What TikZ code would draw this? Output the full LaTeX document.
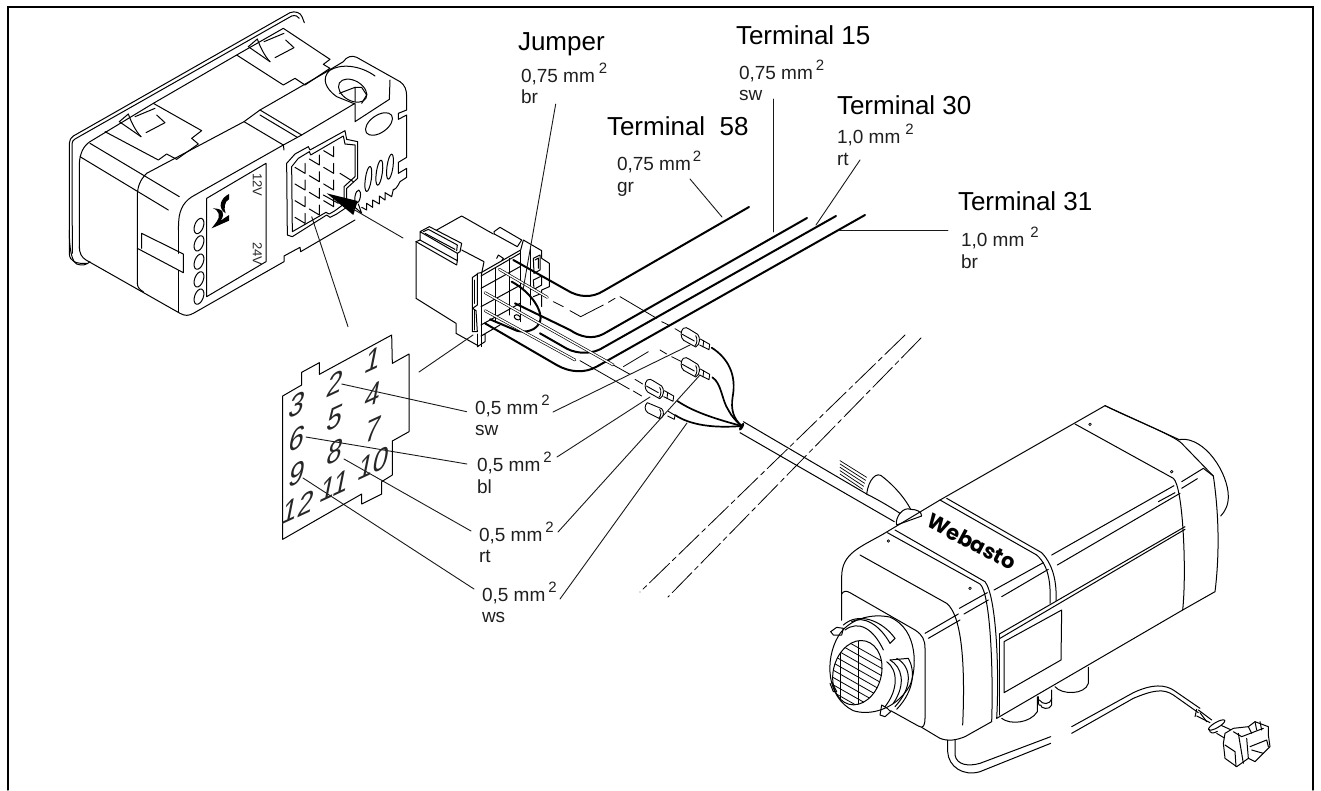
\documentclass[tikz,border=0pt]{standalone}
\usepackage{fontspec}
\setmainfont{Liberation Sans}
\newfontfamily\logofont{Poppins}
\newcommand{\fsz}[1]{\fontsize{#1}{#1}\selectfont}
\newcommand{\wlabel}[7]{% name, x, y, text, gap, second line, dy
  \node[lab] (#1) at (#2,#3) {\fsz{19}#4\hspace{#5pt}\raisebox{8.5pt}{\fsz{15}2}};
  \node[lab] (#1c) at (#2,#3+#7) {\fsz{19}#6};}
\tikzset{
  x=1pt,y=-1pt,
  lab/.style={anchor=base west,inner sep=0pt,outer sep=0pt,text=black!88},
  head/.style={anchor=base west,inner sep=0pt,outer sep=0pt,text=black},
  thin line/.style={line width=1pt,line join=round,line cap=round},
  leader/.style={line width=.9pt,black!90},
  thick wire/.style={line width=2pt,line cap=round,line join=round},
  thin wire/.style={line width=.65pt,double=white,double distance=1.4pt},
  dashwire/.style={line width=.8pt},
  zoomed/.style 2 args={shift={(#1,#2)},x=.33333pt,y=-.33333pt},
  digit/.style={inner sep=0pt,font=\fsz{33},cm={.82,.38,.2,1,(0,0)},text=black!85},
  term/.pic={
    \draw[line width=.9pt,fill=white] (5,0) .. controls (12,-4) and (16,-2) .. (22,2) -- (48,18) .. controls (56,26) and (56,50) .. (42,56) -- (6,36) .. controls (-4,28) and (-4,8) .. (5,0) -- cycle;
    \draw[line width=.9pt] (2,18) -- (38,38);
    \draw[line width=.9pt] (42,22) .. controls (48,30) and (46,48) .. (40,52);
    \draw[line width=.9pt,fill=white] (56,32) -- (84,48) -- (82,64) -- (54,50);
    \draw[line width=.9pt] (66,37) -- (64,56);
  },
  clipmark/.pic={
    \draw (0,0) -- (65,45);
    \draw (27,-23) .. controls (35,0) and (50,30) .. (65,45);
    \draw (0,0) -- (27,-23);
    \draw (47,-15) -- (107,-40);
    \draw (112,-20) -- (137,3) -- (80,33);
  }
}
\begin{document}
\begin{tikzpicture}[thin line]
\useasboundingbox (0,0) rectangle (1321,790);
% frame
\draw[line width=2.2pt,line cap=butt] (7,6.7) -- (1314,6.7);
\draw[line width=1.3pt] (8,6.7) -- (8,790);
\draw[line width=1.3pt] (1313,6.7) -- (1313,790);

%%% control unit (upper crop)
\begin{scope}[zoomed={60}{0}]
\draw (80,790) .. controls (50,792) and (28,785) .. (28,760) -- (28,430) .. controls (28,420) and (33,413) .. (40,408) -- (690,38) .. controls (705,32) and (722,38) .. (726,50) -- (733,68);
\draw (37,760) -- (36,432) .. controls (36,425) and (40,420) .. (45,417) -- (695,48) .. controls (705,45) and (715,48) .. (718,55);
\draw (58,745) -- (58,490) .. controls (60,460) and (70,438) .. (90,425) -- (280,310) -- (530,165) -- (670,85) -- (810,178) -- (790,193) -- (810,205) -- (735,255) -- (705,235) -- (670,255) -- (530,165);
% clips
\draw (135,395) -- (295,480) -- (320,462) -- (350,478) -- (415,432) -- (395,415) -- (425,392) -- (280,310);
\pic at (178,365) {clipmark};
\pic at (565,140) {clipmark};
% ridge and notch
\draw (260,520) -- (552,365) -- (600,330) -- (795,218);
\draw (552,365) -- (670,435) -- (725,405) -- (885,310);
\draw (600,330) -- (725,405);
\draw (600,345) -- (712,412);
\draw (670,435) -- (672,450);
\draw (405,585) -- (670,435);
\draw (60,470) -- (325,630);
\draw (90,430) -- (358,590);
\draw (260,520) .. controls (240,540) and (232,560) .. (232,590) -- (232,850);
\draw (405,585) .. controls (375,600) and (358,625) .. (356,665) -- (355,690);
% side boss
\draw (795,218) -- (850,185) .. controls (860,170) and (875,165) .. (890,172) -- (1020,245) .. controls (1035,255) and (1040,270) .. (1040,290) -- (1040,330) -- (1015,340) -- (1015,358) -- (1040,345) -- (1040,472) -- (1015,487) -- (1015,520) -- (1040,505) -- (1040,532) -- (1020,545) .. controls (1010,565) and (1005,568) .. (1000,570);
\draw (945,228) .. controls (900,195) and (840,190) .. (808,212) .. controls (785,235) and (795,265) .. (830,290) -- (885,312) -- (885,365) -- (988,298) -- (990,240);
\draw[rotate around={-30:(878,272)}] (878,272) ellipse [x radius=46,y radius=30];
\draw (885,262) -- (905,262) -- (920,285) -- (905,310);
\draw (838,280) -- (885,262) -- (885,305);
\draw[rotate around={35:(957,372)}] (957,372) ellipse [x radius=46,y radius=26];
% slits
\foreach \xx/\yy in {925/537,958/518,990/500}{
  \draw[rotate around={-8:(\xx,\yy)}] (\xx,\yy) ellipse [x radius=9,y radius=38];
}
\draw[rotate around={-10:(893,590)}] (893,590) ellipse [x radius=8,y radius=20];
\draw (885,622) -- (905,640) -- (895,612);
\draw (905,622) -- (920,630) -- (920,610) -- (938,622) -- (938,600) -- (958,612) -- (958,588) -- (975,600) -- (975,578) -- (995,590) -- (1000,568);
% socket
\draw (680,490) -- (705,462) -- (745,440) -- (750,450) -- (855,392) -- (860,418) -- (893,425) -- (893,535) -- (860,565) -- (860,622) -- (830,642) -- (810,652) -- (800,645) -- (697,710) -- (682,705) -- cycle;
\draw (695,500) -- (715,475) -- (748,455) -- (752,465) -- (850,408) -- (855,432) -- (885,435) -- (885,530) -- (852,560) -- (852,612) -- (825,632) -- (808,642) -- (798,637) -- (697,695) -- cycle;
\foreach \r in {0,1,2,3}{\foreach \c in {0,1,2}{
  \pgfmathsetmacro{\px}{735+43*\c}
  \pgfmathsetmacro{\py}{520-25*\c+50*\r}
  \draw (\px-30,\py-18) -- (\px,\py) -- (\px,\py-30);
}}
\draw (840,520) -- (880,545);
\draw (790,585) -- (835,610);
\end{scope}

\begin{scope}[zoomed={60}{180}]
\draw (28,150) .. controls (28,170) and (28,240) .. (50,252) .. controls (65,258) and (80,255) .. (90,245);
\draw (58,200) .. controls (58,220) and (65,232) .. (78,240) -- (360,400) .. controls (375,408) and (385,408) .. (400,400) -- (672,245) -- (672,228) -- (720,202) -- (722,215) -- (885,120);
\draw (232,310) .. controls (232,322) and (240,330) .. (250,335);
\draw (232,205) -- (370,278) -- (370,222) -- (245,160) -- (245,205);
\draw (355,272) -- (355,395);
\draw (355,145) -- (355,220);
\draw (440,55) -- (440,350) -- (618,245) -- (618,-50) -- (440,55);
\foreach \yy in {138,190,245,298,350}{
  \draw[rotate around={-20:(417,\yy)}] (417,\yy) ellipse [x radius=13,y radius=24];
}
% logo mark
\fill (507,42) .. controls (480,55) and (472,85) .. (497,100) .. controls (490,85) and (495,62) .. (507,58) -- cycle;
\fill (458,85) .. controls (478,90) and (482,110) .. (470,125) -- (455,145) -- (507,122) -- (507,105) -- (482,122) .. controls (497,100) and (490,85) .. (458,85) -- cycle;
\node[rotate=-90,inner sep=0pt,font=\fsz{13},text=black!85] (lblts) at (592,15) {12V};
\node[rotate=-90,inner sep=0pt,font=\fsz{13},text=black!85] (lbltw) at (592,222) {24V};
\end{scope}

% arrow into socket
\begin{scope}[zoomed={60}{0}]
\coordinate (tip) at (800,580);
\fill (tip) -- (893,603) -- (880,645) -- cycle;
\end{scope}
\coordinate (arrtail) at (403,238);
\coordinate (arrbase) at (353,209);
\draw[leader] (arrtail) -- (arrbase);

%%% plug connector (zoom coordinates)
\begin{scope}[zoomed={400}{190}]
\draw (48,155) -- (48,325) -- (168,400) -- (168,430) -- (236,468);
\draw (48,155) -- (60,150) -- (60,125) -- (88,110) -- (185,160) -- (180,185) -- (172,190) -- (60,125);
\draw (70,125) -- (85,118) -- (172,165) -- (170,182);
\draw (75,130) -- (165,178);
\draw (60,150) -- (172,212) -- (172,190);
\draw (48,155) -- (170,225) -- (172,212);
\draw (110,120) -- (185,78) -- (280,132);
\draw (185,180) -- (252,215) -- (245,250);
\draw (282,125) -- (300,112) -- (365,150) -- (352,170) -- (283,132) -- cycle;
\draw (243,248) -- (362,180) -- (370,150) -- (425,182) -- (425,205) -- (448,220) -- (448,290) -- (425,300) -- (425,350);
\draw (243,258) -- (360,190);
\draw (243,248) -- (243,470);
\draw (232,250) -- (243,248);
\draw (218,262) -- (232,252) -- (232,345) -- (218,355) -- (228,362) -- (232,425) -- (217,425) -- (217,262);
\draw (222,270) -- (222,340);
\draw (222,360) -- (222,420);
\draw (232,470) -- (255,455) -- (255,432) -- (243,438) -- (300,405);
\draw (232,432) -- (232,470);
\draw (285,235) -- (285,395);
\draw (328,205) -- (328,375);
\draw (362,182) -- (362,395);
\draw (390,170) -- (390,345);
\draw (243,295) -- (360,230);
\draw (243,350) -- (362,285);
\draw (243,405) -- (360,340);
\draw (400,205) -- (420,195) -- (420,240) -- (402,250) -- cycle;
\draw (405,210) -- (415,204) -- (415,235);
\draw (400,270) -- (425,258) -- (425,285) -- (402,298) -- cycle;
\draw (400,320) -- (425,310);
\draw (290,205) -- (295,195) -- (310,205) -- (305,212);
\draw[rotate around={-30:(352,382)}] (352,382) ellipse [x radius=10,y radius=7];

% thick wires
\draw[thick wire] (340,210) -- (500,300) .. controls (535,322) and (575,325) .. (610,303) -- (1047,51);
\draw[thick wire] (345,340) -- (510,420) .. controls (540,440) and (575,450) .. (610,432) -- (1221,84);
\draw[thick wire] (420,430) -- (490,470) .. controls (520,490) and (565,495) .. (600,478) -- (1308,78);
\draw[thick wire] (255,400) -- (470,525) .. controls (510,548) and (555,550) .. (590,530) -- (1395,75);
\draw[thick wire] (335,275) .. controls (400,310) and (430,370) .. (420,395) .. controls (410,420) and (380,430) .. (350,422) -- (270,388);

% thin wires
\draw[thin wire] (298,238) -- (442,322);
\draw[thin wire] (255,308) -- (640,525);
\draw[thin wire] (255,362) -- (525,510);
\draw[dashwire] (460,335) -- (490,350);
\draw[dashwire] (510,362) -- (542,380) -- (610,345);
\draw[dashwire] (625,337) -- (645,325);
\draw[dashwire] (660,320) -- (770,385);
\draw[dashwire] (785,395) -- (810,407);
\draw[dashwire] (825,416) -- (845,428);
\draw[dashwire] (640,525) -- (690,553);
\draw[dashwire] (705,568) -- (728,582);
\draw[dashwire] (540,512) -- (688,597);
\draw[dashwire] (700,603) -- (725,618);
\draw[dashwire] (670,530) -- (745,485);
\draw[dashwire] (780,480) -- (800,492);
\draw[dashwire] (815,500) -- (845,515);
\end{scope}

%%% terminals and tails
\begin{scope}[zoomed={600}{300}]
\pic at (245,85) {term};
\pic at (245,175) {term};
\pic at (137,240) {term};
\begin{scope}[shift={(137,308)}]
\draw[line width=.9pt,fill=white] (5,0) -- (48,18) .. controls (56,26) and (56,44) .. (42,48) -- (6,30) .. controls (-4,22) and (-4,8) .. (5,0) -- cycle;
\draw[line width=.9pt] (42,20) .. controls (48,28) and (46,40) .. (40,46);
\draw[line width=.9pt,fill=white] (68,26) -- (88,38) -- (86,50) -- (66,40);
\end{scope}
\coordinate (knot) at (425,378);
\draw[thick wire,line width=1.7pt] (335,143) .. controls (385,175) and (410,225) .. (398,290) .. controls (392,330) and (400,355) .. (knot);
\draw[thick wire,line width=1.7pt] (337,232) .. controls (365,250) and (365,300) .. (385,330) .. controls (395,350) and (410,365) .. (knot);
\draw[thick wire,line width=1.7pt] (232,303) .. controls (280,335) and (340,355) .. (knot);
\draw[thick wire,line width=1.7pt] (225,345) .. controls (270,375) and (340,385) .. (knot);
\fill[rotate around={-30:(425,380)}] (425,380) ellipse [x radius=5,y radius=13];
\end{scope}

%%% leaders to labels: coordinates
\coordinate (aj) at (555.7,104);  \coordinate (bj) at (523,290);
\coordinate (a15) at (773,99);    \coordinate (b15) at (773,232);
\coordinate (a30) at (860,160);   \coordinate (b30) at (816,225);
\coordinate (a31) at (948,230);   \coordinate (b31) at (839,230);
\coordinate (a58) at (690,179);   \coordinate (b58) at (722,217);
\coordinate (sockend) at (311.7,216.7); \coordinate (chipa) at (348,326.7);
\coordinate (plugend) at (473,335); \coordinate (chipb) at (419,372);
\coordinate (n2) at (341.7,384);  \coordinate (l2) at (466.7,411.7);
\coordinate (n6) at (306,437);    \coordinate (l6) at (467,464);
\coordinate (n8) at (344,459);    \coordinate (l8) at (471,531);
\coordinate (n9) at (303,478);    \coordinate (l9) at (474,589);
\coordinate (r2) at (553,412);    \coordinate (t2) at (690,345);
\coordinate (r6) at (557,457);    \coordinate (t6) at (650,397);
\coordinate (r8) at (558,532);    \coordinate (t8) at (700,375);
\coordinate (r9) at (560,599);    \coordinate (t9) at (687,423);
\foreach \u/\v in {aj/bj,a15/b15,a30/b30,a31/b31,a58/b58,sockend/chipa,plugend/chipb,n2/l2,n6/l6,n8/l8,n9/l9,r2/t2,r6/t6,r8/t8,r9/t9}{
  \draw[leader] (\u) -- (\v);
}

%%% contact chip
\begin{scope}[zoomed={260}{340}]
\draw (68,168) -- (125,135) -- (125,97) -- (178,68) -- (178,103) -- (395,-15) -- (397,70) -- (447,42) -- (447,275) -- (397,303) -- (397,405) -- (365,425) -- (365,462) -- (305,492) -- (305,462) -- (68,598) -- cycle;
\foreach \nm/\xx/\yy/\tx in {d1/340/60/1,d2/225/130/2,d4/340/165/4,d3/112/195/3,d5/225/232/5,d7/340/268/7,d6/112/295/6,d8/225/335/8,d10/340/370/10,d9/112/400/9,d11/225/437/11,d12/115/502/12}{
  \node[digit] (\nm) at (\xx,\yy) {\tx};
}
\end{scope}

%%% texts
\node[head,font=\fsz{26}] (tj) at (518,50) {Jumper};
\node[head,font=\fsz{26}] (t15) at (736,44) {Terminal 15};
\node[head,font=\fsz{26}] (t30) at (837,114) {Terminal 30};
\node[head,font=\fsz{26}] (t58) at (607,135) {Terminal\ \ 58};
\node[head,font=\fsz{26}] (t31) at (958,210) {Terminal 31};
\wlabel{lj}{521}{82}{0,75 mm}{4}{br}{21}
\wlabel{l15}{739}{79}{0,75 mm}{3}{sw}{21}
\wlabel{l30}{837}{143}{1,0 mm}{5}{rt}{22}
\wlabel{l58}{617}{170}{0,75 mm}{2}{gr}{22}
\wlabel{l31}{961}{246}{1,0 mm}{6}{br}{22}
\wlabel{ls}{475}{414}{0,5 mm}{3}{sw}{21}
\wlabel{lb}{477}{471}{0,5 mm}{3}{bl}{22}
\wlabel{lr}{479}{541}{0,5 mm}{3}{rt}{21}
\wlabel{lw}{482}{601}{0,5 mm}{3}{ws}{21}

%%% dash-dot break lines
\coordinate (bk1a) at (905,335); \coordinate (bk1b) at (640,592);
\coordinate (bk2a) at (921,338); \coordinate (bk2b) at (668,597);
\draw[line width=.8pt,dash pattern=on 28pt off 4pt on 5pt off 4pt] (bk1a) -- (bk1b);
\draw[line width=.8pt,dash pattern=on 28pt off 4pt on 5pt off 4pt] (bk2a) -- (bk2b);

%%% heater
\begin{scope}[zoomed={800}{390}]
% cable
\draw (-170,95) -- (205,315);
\draw (-180,128) -- (283,395);
\foreach \k in {0,1,2,3,4}{
  \draw[line width=.7pt] (120,{212+\k*10}) -- ({200-\k*3},{262+\k*9});
}
\draw[fill=white] (200,312) .. controls (205,270) and (230,240) .. (250,262) .. controls (285,290) and (315,325) .. (332,358) .. controls (350,358) and (365,365) .. (365,378) -- (290,405) .. controls (285,395) and (295,375) .. (300,370) .. controls (270,350) and (235,330) .. (200,312) -- cycle;
\draw (300,370) .. controls (310,358) and (320,354) .. (332,358);
% body
\draw (250,432) .. controls (180,472) and (125,490) .. (125,560) -- (125,690);
\draw (250,432) -- (420,330) -- (915,47) -- (1140,150);
\draw (915,47) .. controls (990,85) and (1120,135) .. (1145,160) -- (1240,258);
\draw (825,102) -- (1120,265) .. controls (1150,290) and (1160,550) .. (1148,660);
\draw (1210,235) -- (1240,258) .. controls (1258,380) and (1258,500) .. (1245,605) -- (1148,660) -- (590,985);
\draw (1140,148) .. controls (1215,140) and (1285,250) .. (1285,320) .. controls (1285,345) and (1275,365) .. (1262,378);
% bands
\draw (262,428) -- (540,582) .. controls (572,610) and (580,850) .. (575,995);
\draw (285,420) -- (555,575) .. controls (590,620) and (598,850) .. (590,985);
\draw (420,330) -- (710,495) .. controls (750,530) and (752,590) .. (750,640);
\draw (440,325) -- (725,488) .. controls (765,530) and (770,590) .. (768,632);
\draw (180,495) -- (440,640) .. controls (490,680) and (495,850) .. (488,1005);
% side lines
\draw (375,730) -- (475,672);
\draw (385,745) -- (480,690);
\draw (478,655) -- (562,608);
\draw (492,672) -- (565,630);
\draw (582,600) -- (730,518);
\draw (605,620) -- (745,538);
\draw (755,495) -- (1122,287);
\draw (772,525) -- (1140,310);
\draw (1075,335) -- (1125,308);
\draw (1145,275) -- (1210,235);
\draw (1145,295) -- (1192,266);
% label plate
\draw (598,732) -- (1155,410);
\draw (600,745) -- (1155,418);
\draw (612,755) -- (785,660) -- (783,810) -- (612,908) -- cycle;
\draw (598,732) -- (598,975);
% front face
\draw (125,612) .. controls (130,602) and (140,602) .. (150,608) -- (345,720) .. controls (368,735) and (375,750) .. (375,775) -- (375,985) .. controls (375,1005) and (370,1018) .. (355,1008) -- (272,962);
\draw (125,690) -- (125,612);
\draw (365,1012) -- (420,1045) .. controls (445,1055) and (470,1050) .. (495,1040) -- (575,995);
% bottom parts
\draw (605,985) .. controls (630,1005) and (690,1000) .. (712,965) -- (712,920);
\draw (765,890) .. controls (785,915) and (855,915) .. (865,880) -- (865,832);
\draw (715,920) -- (715,935) .. controls (715,945) and (720,950) .. (722,945) .. controls (720,955) and (750,962) .. (755,945) -- (755,900);
\draw (718,930) .. controls (728,945) and (750,945) .. (755,925);
% bottom cable
\draw (443,1050) -- (443,1085) .. controls (445,1130) and (490,1160) .. (540,1145) -- (752,1060);
\draw (465,1050) -- (465,1095) .. controls (470,1125) and (505,1130) .. (540,1120) -- (752,1040);
\draw (815,1030) -- (1000,925) .. controls (1060,900) and (1090,895) .. (1120,915) -- (1195,968);
\draw (815,1010) -- (1000,908) .. controls (1060,880) and (1095,885) .. (1120,900) -- (1200,955);
% screws
\foreach \xx/\yy in {265/453,510/595,870/103,1115/245}{
  \draw[line width=.7pt] (\xx,\yy) circle [radius=4];
}
% grille rings
\begin{scope}[rotate around={-30:(215,815)}]
\draw[fill=white] (90,800) .. controls (90,740) and (140,690) .. (195,672) .. controls (290,660) and (345,770) .. (350,820) .. controls (350,905) and (290,960) .. (240,970) .. controls (150,975) and (90,880) .. (90,800) -- cycle;
\end{scope}
\draw (130,705) .. controls (175,665) and (245,690) .. (285,745);
\draw (155,695) .. controls (190,675) and (240,705) .. (270,760);
\draw (135,720) .. controls (175,690) and (220,715) .. (250,780);
\draw (285,745) -- (270,760);
\draw (270,810) .. controls (305,830) and (320,880) .. (280,940);
\draw (290,805) .. controls (335,830) and (340,890) .. (285,950);
\draw (325,805) .. controls (345,840) and (345,900) .. (290,958);
\draw (260,815) .. controls (295,840) and (295,900) .. (255,950);
\draw (270,810) -- (325,805);
\draw[fill=white,rotate around={-15:(172,848)}] (172,848) ellipse [x radius=72,y radius=98];
\begin{scope}
\clip[rotate around={-15:(172,848)}] (172,848) ellipse [x radius=72,y radius=98];
\foreach \k in {-1,...,13}{
  \draw[line width=.8pt] (60,{730+\k*22}) -- (280,{855+\k*22});
}
\draw (175,740) -- (175,945);
\draw (120,740) -- (120,945);
\end{scope}
\draw (110,712) -- (92,725) -- (100,735) -- (125,735) -- (130,715) -- cycle;
\draw (95,875) -- (110,905) -- (100,905) -- (90,880);
\draw (245,945) -- (240,975) -- (255,980) -- (272,965) -- (262,955) -- cycle;
% logo
\node[inner sep=0pt,font=\logofont\bfseries\fsz{21},rotate=-28] (logo) at (515,455) {Webasto};
\end{scope}

%%% cable plug
\begin{scope}[zoomed={1180}{690}]
\draw (50,58) -- (45,80);
\draw (55,60) -- (95,90);
\draw (50,78) -- (90,98);
\draw (60,68) -- (80,95);
\draw (110,100) -- (165,125);
\draw (110,130) -- (135,145);
\draw[fill=white,rotate around={30:(110,105)}] (110,105) ellipse [x radius=28,y radius=8];
\draw (88,118) .. controls (88,130) and (100,132) .. (112,124);
\draw[fill=white] (135,130) -- (160,115) -- (205,110) -- (225,95) -- (265,110) -- (265,135) -- (270,170) -- (225,215) -- (205,205) -- (170,230) -- (135,205) -- (130,160) -- cycle;
\draw (160,125) -- (185,140) -- (250,115);
\draw (175,130) -- (190,220);
\draw (205,110) -- (215,130);
\draw (225,95) -- (230,120);
\draw (240,95) -- (245,120);
\draw (210,170) -- (260,150) -- (265,170);
\draw (135,165) -- (165,185) -- (168,230);
\draw (200,145) -- (205,205);
\draw (215,180) -- (250,190);
\end{scope}
\end{tikzpicture}
\end{document}
